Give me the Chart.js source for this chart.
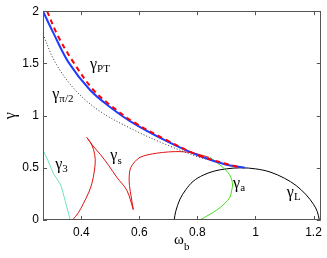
<!DOCTYPE html>
<html>
<head>
<meta charset="utf-8">
<script src="https://cdn.jsdelivr.net/npm/chart.js@4.4.0/dist/chart.umd.min.js"></script>
<style>
html, body { margin: 0; padding: 0; background: #fff; }
</style>
</head>
<body>
<canvas id="chart" width="327" height="258"></canvas>
<script>
// tick positions and labels
var xTicks = [0.4, 0.6, 0.8, 1, 1.2];
var xTickLabels = ['0.4', '0.6', '0.8', '1', '1.2'];
var yTicks = [0, 0.5, 1, 1.5, 2];
var yTickLabels = ['0', '0.5', '1', '1.5', '2'];

// gamma_PT, numerical (red dashed) and analytic (blue)
var ptRedW = [0.282, 0.32, 0.373, 0.44, 0.5, 0.579, 0.694, 0.808, 0.95];
var ptRedG = [2.0, 1.76, 1.51, 1.25, 1.1, 0.94, 0.765, 0.615, 0.5];
var ptBlueW = [0.268, 0.304, 0.356, 0.43, 0.5, 0.579, 0.694, 0.808, 0.9, 0.963];
var ptBlueG = [2.0, 1.79, 1.51, 1.245, 1.08, 0.927, 0.755, 0.613, 0.53, 0.5];

// gamma_pi/2 (dotted)
var halfW = [0.268, 0.31, 0.379, 0.465, 0.579, 0.694, 0.808, 0.85];
var halfG = [1.78, 1.51, 1.245, 1.04, 0.865, 0.72, 0.6, 0.575];

// gamma_s, three branches between the cusps
var s1W = [0.37, 0.39, 0.407, 0.425, 0.436, 0.445, 0.448, 0.442, 0.432, 0.419];
var s1G = [0, 0.07, 0.157, 0.26, 0.346, 0.47, 0.58, 0.676, 0.74, 0.79];
var s2W = [0.419, 0.44, 0.465, 0.495, 0.522, 0.557, 0.579];
var s2G = [0.79, 0.71, 0.63, 0.52, 0.41, 0.283, 0.1];
var s3W = [0.579, 0.572, 0.566, 0.565, 0.57, 0.585, 0.602, 0.63, 0.66, 0.7, 0.74, 0.78, 0.81, 0.84];
var s3G = [0.1, 0.22, 0.33, 0.42, 0.5, 0.56, 0.6, 0.625, 0.64, 0.652, 0.655, 0.645, 0.625, 0.6];

// gamma_3
var g3W = [0.268, 0.285, 0.305, 0.327, 0.34, 0.35, 0.362];
var g3G = [0.667, 0.57, 0.44, 0.346, 0.23, 0.125, 0];

// gamma_a
var aW = [0.843, 0.865, 0.889, 0.905, 0.915, 0.921, 0.918, 0.912, 0.895, 0.866, 0.84, 0.809];
var aG = [0.6, 0.555, 0.5, 0.455, 0.41, 0.346, 0.28, 0.22, 0.16, 0.094, 0.05, 0];

// gamma_L
var lW = [0.72, 0.725, 0.74, 0.76, 0.785, 0.82, 0.86, 0.9, 0.95, 1.0, 1.05, 1.1, 1.14, 1.175, 1.2, 1.213, 1.22];
var lG = [0, 0.08, 0.2, 0.29, 0.37, 0.43, 0.47, 0.49, 0.5, 0.49, 0.46, 0.4, 0.33, 0.24, 0.15, 0.08, 0];

// curve labels: subscript, anchor (omega, gamma)
var labelSubs = ['PT', 'π/2', '3', 's', 'a', 'L'];
var labelW = [0.43, 0.30, 0.31, 0.50, 0.923, 1.108];
var labelG = [1.45, 1.16, 0.49, 0.57, 0.31, 0.22];

function pts(xs, ys) {
    return xs.map(function (x, i) { return { x: x, y: ys[i] }; });
}

function line(xs, ys, color, width, dash) {
    return {
        data: pts(xs, ys),
        borderColor: color,
        borderWidth: width,
        borderDash: dash || [],
        showLine: true,
        pointRadius: 0,
        fill: false,
        tension: 0.35
    };
}

var serif = "'Liberation Serif', 'DejaVu Serif', serif";

function gammaText(ctx, x, y, sub, size) {
    ctx.font = size + 'px ' + serif;
    ctx.fillText('γ', x, y);
    var w = ctx.measureText('γ').width;
    ctx.font = Math.round(size * 0.7) + 'px ' + serif;
    ctx.fillText(sub, x + w, y + size * 0.2);
}

var framePlugin = {
    id: 'frame',
    afterDraw: function (chart) {
        var ctx = chart.ctx;
        var a = chart.chartArea;
        var xs = chart.scales.x, ys = chart.scales.y;
        ctx.save();
        ctx.strokeStyle = '#555';
        ctx.lineWidth = 1;
        ctx.strokeRect(Math.round(a.left) + 0.5, Math.round(a.top) + 0.5,
            Math.round(a.right - a.left) - 1, Math.round(a.bottom - a.top) - 1);
        ctx.beginPath();
        xTicks.forEach(function (v) {
            var px = Math.round(xs.getPixelForValue(v)) + 0.5;
            ctx.moveTo(px, a.bottom); ctx.lineTo(px, a.bottom - 4);
            ctx.moveTo(px, a.top); ctx.lineTo(px, a.top + 4);
        });
        yTicks.forEach(function (v) {
            var py = Math.round(ys.getPixelForValue(v)) + 0.5;
            ctx.moveTo(a.left, py); ctx.lineTo(a.left + 4, py);
            ctx.moveTo(a.right, py); ctx.lineTo(a.right - 4, py);
        });
        ctx.stroke();

        ctx.fillStyle = '#000';
        ctx.textBaseline = 'alphabetic';
        ctx.textAlign = 'left';
        labelSubs.forEach(function (s, i) {
            gammaText(ctx, xs.getPixelForValue(labelW[i]), ys.getPixelForValue(labelG[i]), s, 16);
        });

        // axis titles
        ctx.font = '15px ' + serif;
        ctx.fillText('ω', (a.left + a.right) / 2 - 8, 244);
        ctx.font = '11px ' + serif;
        ctx.fillText('b', (a.left + a.right) / 2 + 2, 250);

        ctx.translate(15, (a.top + a.bottom) / 2);
        ctx.rotate(-Math.PI / 2);
        ctx.textAlign = 'center';
        ctx.font = '16px ' + serif;
        ctx.fillText('γ', 0, 0);
        ctx.restore();
    }
};

var tickFont = { family: "'Liberation Sans', Arial, sans-serif", size: 12 };

new Chart(document.getElementById('chart'), {
    type: 'scatter',
    data: {
        datasets: [
            line(ptRedW, ptRedG, '#ff0000', 2, [5, 4]),
            line(ptBlueW, ptBlueG, '#1f3cff', 2),
            line(halfW, halfG, '#333', 1, [1, 2]),
            line(s1W, s1G, '#e01010', 1),
            line(s2W, s2G, '#e01010', 1),
            line(s3W, s3G, '#e01010', 1),
            line(g3W, g3G, '#70e0c0', 1),
            line(aW, aG, '#44dd22', 1),
            line(lW, lG, '#000', 1)
        ]
    },
    options: {
        responsive: false,
        animation: false,
        layout: { padding: { top: 8, right: 5, left: 0, bottom: 0 } },
        plugins: { legend: { display: false }, tooltip: { enabled: false } },
        scales: {
            x: {
                type: 'linear',
                min: 0.268,
                max: 1.225,
                afterBuildTicks: function (s) { s.ticks = xTicks.map(function (v) { return { value: v }; }); },
                afterFit: function (s) { s.height = 38; },
                ticks: {
                    callback: function (v, i) { return xTickLabels[i]; },
                    font: tickFont, color: '#000', padding: 5, maxRotation: 0, autoSkip: false
                },
                grid: { display: false, drawTicks: false },
                border: { display: false }
            },
            y: {
                type: 'linear',
                min: 0,
                max: 2,
                afterBuildTicks: function (s) { s.ticks = yTicks.map(function (v) { return { value: v }; }); },
                afterFit: function (s) { s.width = 43; },
                ticks: {
                    callback: function (v, i) { return yTickLabels[i]; },
                    font: tickFont, color: '#000', padding: 4, autoSkip: false
                },
                grid: { display: false, drawTicks: false },
                border: { display: false }
            }
        }
    },
    plugins: [framePlugin]
});
</script>
</body>
</html>
